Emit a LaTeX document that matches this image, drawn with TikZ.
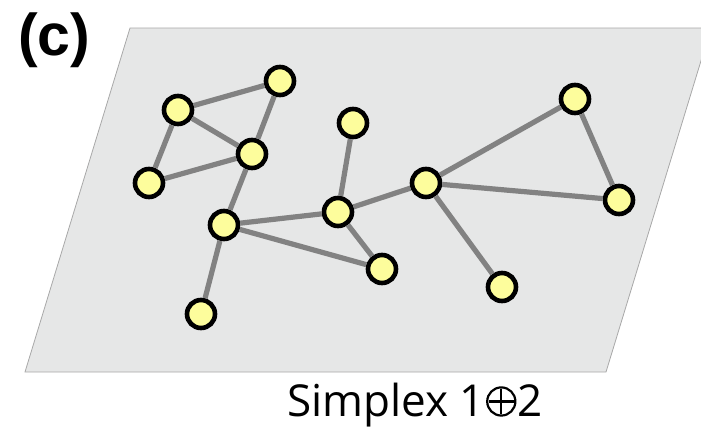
\documentclass[tikz,border=0pt]{standalone}
\usepackage{fontspec}
\setmainfont{Open Sans}
\newfontfamily\labelfont{Liberation Sans}
\definecolor{planefill}{HTML}{E6E7E7}
\definecolor{planeedge}{HTML}{A8A8A8}
\definecolor{vertexfill}{HTML}{FDFD9C}
\definecolor{edgegray}{HTML}{828282}
% a thin circled plus sized to the surrounding text
\newcommand{\circplus}{\hspace{0.03em}\tikz[x=1em,y=1em,baseline=0pt,line width=0.05em]{
  \draw (0.33,0.34) circle[radius=0.32];
  \draw (0.05,0.34) -- (0.61,0.34) (0.33,0.06) -- (0.33,0.62);}\hspace{0.03em}}
\begin{document}
\begin{tikzpicture}[x=1pt,y=-1pt,
  vertex/.style={circle,draw=black,line width=4.6pt,fill=vertexfill,minimum size=28pt,inner sep=0pt},
  link/.style={draw=edgegray,line width=5.2pt}]
\useasboundingbox (0,0) rectangle (701,429);
\begin{scope}
\clip (0,0) rectangle (701,429);
% the plane
\draw[fill=planefill,draw=planeedge,line width=0.8pt]
  (130,28) -- (711,28) -- (606,372) -- (25,372) -- cycle;
\end{scope}
% vertices
\node[vertex] (v1) at (178,110) {};
\node[vertex] (v2) at (280,81) {};
\node[vertex] (v3) at (252,154) {};
\node[vertex] (v4) at (149,183) {};
\node[vertex] (v5) at (353,123) {};
\node[vertex] (v6) at (224,225) {};
\node[vertex] (v7) at (338,212) {};
\node[vertex] (v8) at (426,183) {};
\node[vertex] (v9) at (575,99) {};
\node[vertex] (v10) at (619,200) {};
\node[vertex] (v11) at (382,269) {};
\node[vertex] (v12) at (502,287) {};
\node[vertex] (v13) at (201,314) {};
% edges
\foreach \a/\b in {v1/v2,v1/v3,v2/v3,v1/v4,v4/v3,v3/v6,v6/v13,v6/v7,v6/v11,
                   v7/v11,v7/v5,v7/v8,v8/v9,v9/v10,v8/v10,v8/v12}
  \path[link] (\a) -- (\b);
% labels
\node[anchor=west,inner sep=0pt,font=\labelfont\bfseries\fontsize{59}{59}\selectfont] (lab) at (18,40) {(c)};
\node[inner sep=0pt,font=\fontsize{44}{44}\selectfont] (cap) at (415,405)
  {Simplex 1\circplus2};
\end{tikzpicture}
\end{document}
